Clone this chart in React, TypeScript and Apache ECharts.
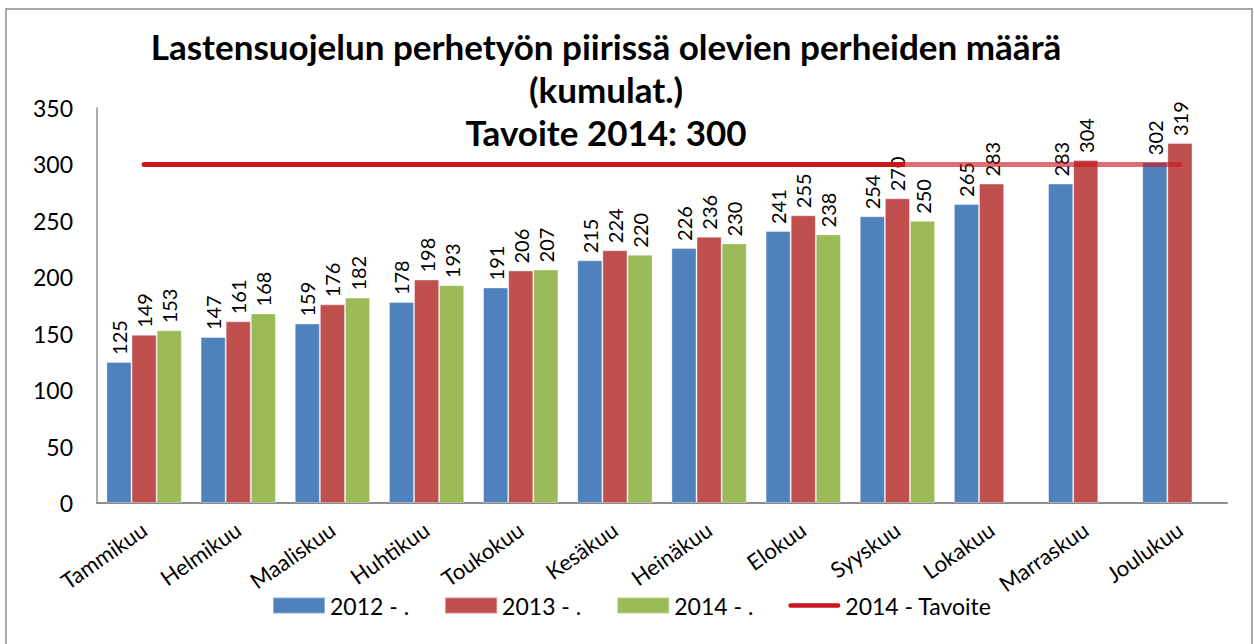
import React, { useEffect, useRef } from "react";
import * as echarts from "echarts";

const categories = ["Tammikuu", "Helmikuu", "Maaliskuu", "Huhtikuu", "Toukokuu", "Kesäkuu", "Heinäkuu", "Elokuu", "Syyskuu", "Lokakuu", "Marraskuu", "Joulukuu"];
const s2012 = [125, 147, 159, 178, 191, 215, 226, 241, 254, 265, 283, 302];
const s2013 = [149, 161, 176, 198, 206, 224, 236, 255, 270, 283, 304, 319];
const s2014 = [153, 168, 182, 193, 207, 220, 230, 238, 250, null, null, null];
const target = [300, 300, 300, 300, 300, 300, 300, 300, 300, 300, 300, 300];
const yTicks = { min: 0, max: 350, interval: 50 };
const titleText = "Lastensuojelun perhetyön piirissä olevien perheiden määrä\n(kumulat.)\nTavoite 2014: 300";

const FONT = "Lato";

export default function App() {
  const ref = useRef<HTMLDivElement>(null);
  useEffect(() => {
    document.body.style.margin = "0";
    const chart = echarts.init(ref.current!, null, { renderer: "svg" });
    const label = {
      show: true,
      position: "top" as const,
      rotate: 90,
      align: "left" as const,
      verticalAlign: "middle" as const,
      distance: 7,
      fontSize: 20,
      fontFamily: FONT,
      color: "#000",
    };
    const bar = (name: string, data: (number | null)[], color: string) => ({
      name,
      type: "bar",
      data,
      barGap: "0%",
      barCategoryGap: "20%",
      itemStyle: { color, borderColor: "rgba(255,255,255,0.35)", borderWidth: 1 },
      label,
    });
    const solid = "#C8161D";
    const faded = "rgba(200,22,29,0.62)";
    const lineIcon = "path://M0,0 M57,16 M2.5,5.5 H54.5 A2.5,2.5 0 0 1 54.5,10.5 H2.5 A2.5,2.5 0 0 1 2.5,5.5 Z";
    chart.setOption({
      animation: false,
      backgroundColor: "#fff",
      title: {
        text: titleText,
        left: 601,
        top: 19,
        textAlign: "center",
        textStyle: { fontSize: 35, fontWeight: "bold", fontFamily: FONT, lineHeight: 43, color: "#000" },
      },
      graphic: [
        {
          type: "rect",
          shape: { x: 6, y: 9, width: 1246, height: 660 },
          style: { fill: "none", stroke: "#8c8c8c", lineWidth: 1.5 },
          silent: true,
        },
      ],
      legend: {
        bottom: 22,
        left: 267,
        itemWidth: 52,
        itemHeight: 16,
        itemGap: 35,
        textStyle: { fontSize: 23, fontFamily: FONT, color: "#000" },
        data: [
          { name: "2012 - .", icon: "rect" },
          { name: "2013 - .", icon: "rect" },
          { name: "2014 - .", icon: "rect" },
          { name: "2014 - Tavoite", icon: lineIcon, itemStyle: { color: solid } },
        ],
      },
      grid: { left: 97, right: 27, top: 108, bottom: 141 },
      xAxis: {
        type: "category",
        data: categories,
        axisLine: { show: true, lineStyle: { color: "#8c8c8c", width: 2 } },
        axisTick: { show: false },
        axisLabel: { rotate: 35, fontSize: 22, fontFamily: FONT, color: "#000", margin: 24, interval: 0 },
      },
      yAxis: {
        type: "value",
        min: yTicks.min,
        max: yTicks.max,
        interval: yTicks.interval,
        axisLine: { show: true, lineStyle: { color: "#8c8c8c", width: 1.5 } },
        axisTick: { show: false },
        splitLine: { show: false },
        axisLabel: { fontSize: 23, fontFamily: FONT, color: "#000", margin: 24 },
      },
      series: [
        bar("2012 - .", s2012, "#4F81BD"),
        bar("2013 - .", s2013, "#C0504D"),
        bar("2014 - .", s2014, "#9BBB59"),
        {
          name: "2014 - Tavoite",
          type: "line",
          data: target,
          showSymbol: false,
          symbol: "none",
          z: 5,
          lineStyle: {
            width: 5,
            cap: "round",
            color: new echarts.graphic.LinearGradient(143, 0, 1183, 0, [
              { offset: 0, color: solid },
              { offset: 0.733, color: solid },
              { offset: 0.733, color: faded },
              { offset: 1, color: faded },
            ], true),
          },
          itemStyle: { color: solid },
        },
      ],
    });
    return () => chart.dispose();
  }, []);
  return <div ref={ref} style={{ width: 1254, height: 644 }} />;
}
